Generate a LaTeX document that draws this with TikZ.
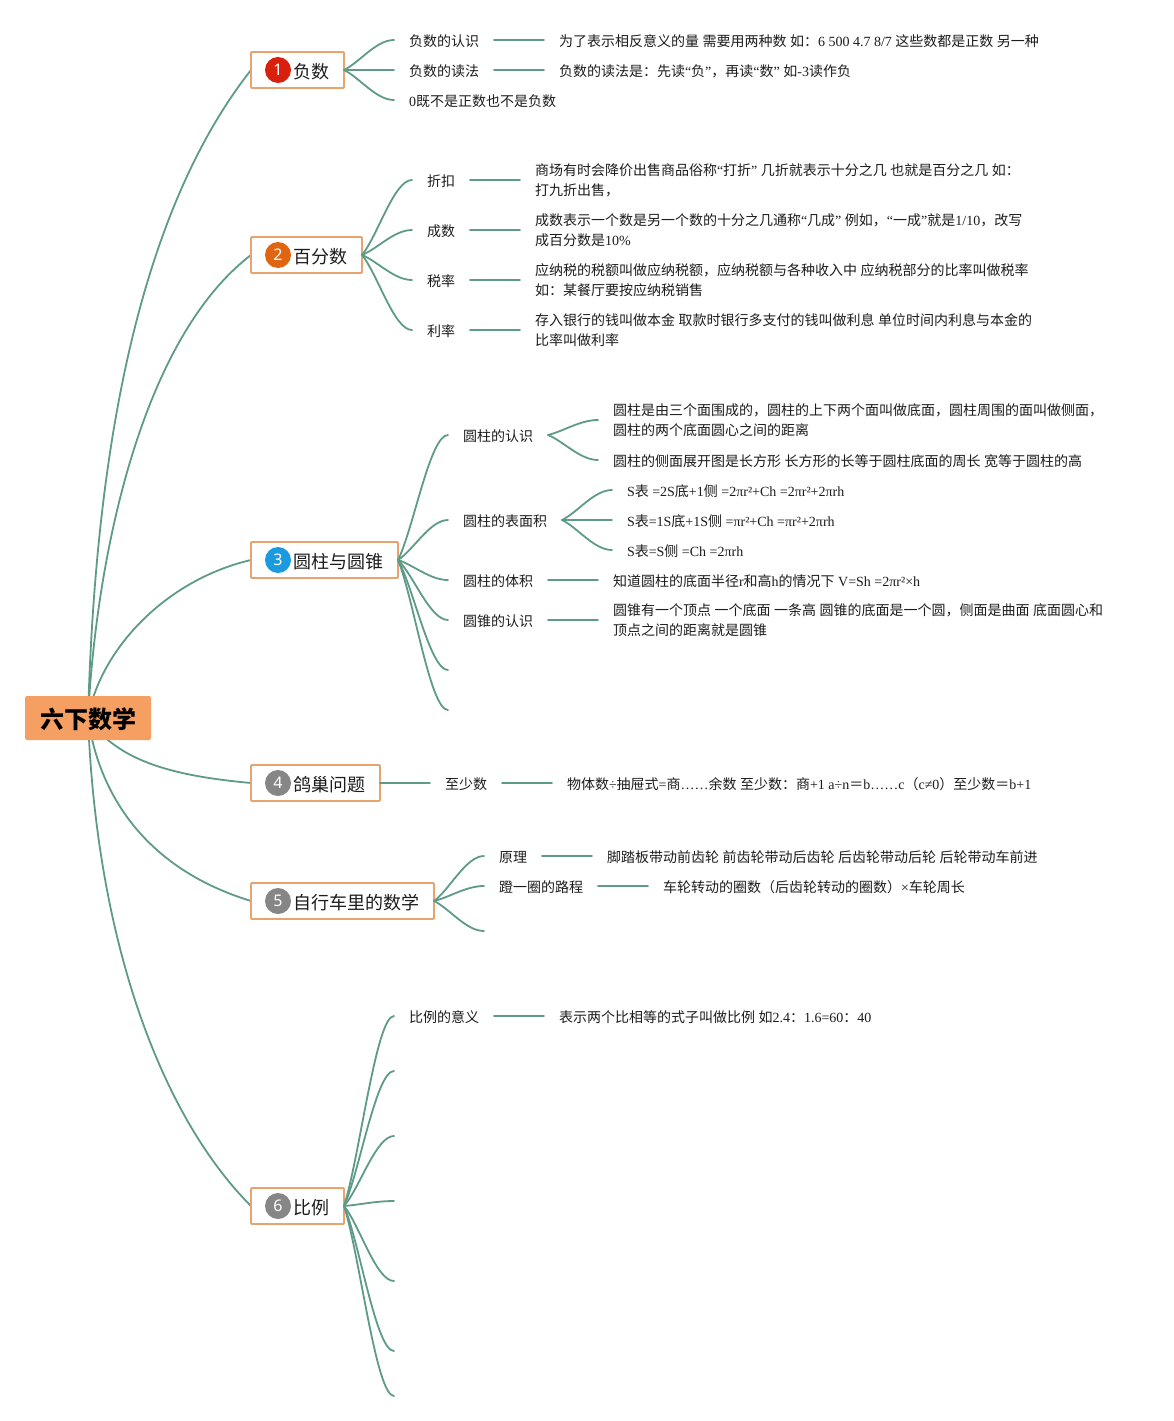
\documentclass[tikz,border=0pt]{standalone}
\usepackage{fontspec}
\usetikzlibrary{calc,backgrounds}
\setmainfont{Liberation Serif}
\newfontfamily\cjk{Noto Sans CJK SC}
\newfontfamily\badgefont{Noto Sans}
\newXeTeXintercharclass\cjkclass
\newcount\myc
\myc="4E00 \loop \XeTeXcharclass\myc=\cjkclass \ifnum\myc<"9FFF \advance\myc 1 \repeat
\myc="FF00 \loop \XeTeXcharclass\myc=\cjkclass \ifnum\myc<"FFEF \advance\myc 1 \repeat
\myc="3000 \loop \XeTeXcharclass\myc=\cjkclass \ifnum\myc<"303F \advance\myc 1 \repeat
\XeTeXinterchartoks 0 \cjkclass={\cjk}
\XeTeXinterchartoks 4095 \cjkclass={\cjk}
\XeTeXinterchartoks \cjkclass 0={\rmfamily}
\XeTeXinterchartoks \cjkclass 4095={\rmfamily}
\AtBeginDocument{\XeTeXinterchartokenstate=1 }
\newcommand\mystrut{\rule[-1pt]{0pt}{15pt}}
\definecolor{linec}{HTML}{5E9A88}
\definecolor{orangeb}{HTML}{E9A36F}
\definecolor{rootf}{HTML}{F5A062}
\definecolor{badgeg}{HTML}{868686}
\definecolor{txt}{HTML}{1C1C1C}
\tikzset{
  conn/.style={draw=linec,line width=1.8pt,line cap=round},
  lab/.style={anchor=west,inner xsep=15pt,inner ysep=0pt,outer sep=0pt,align=left,text=txt,
    font=\fontsize{14}{20}\selectfont,execute at begin node=\mystrut,execute at end node=\mystrut},
  topic/.style={anchor=west,draw=orangeb,line width=1.8pt,fill=white,rounded corners=1pt,
    minimum height=36pt,inner xsep=15pt,inner ysep=0pt,outer sep=0pt,text=txt,
    text height=17pt,text depth=1pt,font=\fontsize{18}{22}\selectfont},
  badge/.style={circle,minimum size=26pt,inner sep=0pt,outer sep=0pt,text=white,
    font=\badgefont\fontsize{16}{16}\selectfont},
  rootn/.style={draw=none,fill=rootf,rounded corners=2pt,minimum width=126pt,minimum height=44pt,
    inner sep=0pt,outer sep=0pt,text=black,text height=22pt,text depth=2pt,
    font=\bfseries\fontsize{24}{28}\selectfont}
}
\newcommand\fork[2]{\draw[conn] (#1) .. controls ($(#1)!.25!(#2)+(3,0)$) and ($(#2)+(-18,0)$) .. (#2);}
\begin{document}
\begin{tikzpicture}[x=1pt,y=-1pt]
\useasboundingbox (0,0) rectangle (1173,1421);
\node[rootn] (root) at (88,718) {六下数学};
% topics
\node[topic] (t1) at (251,70) {\hspace*{27pt}负数};
\node[topic] (t2) at (251,255) {\hspace*{27pt}百分数};
\node[topic] (t3) at (251,560) {\hspace*{27pt}圆柱与圆锥};
\node[topic] (t4) at (251,783) {\hspace*{27pt}鸽巢问题};
\node[topic] (t5) at (251,901) {\hspace*{27pt}自行车里的数学};
\node[topic] (t6) at (251,1206) {\hspace*{27pt}比例};
\node[badge,fill={rgb,255:red,217;green,32;blue,15}] (b1) at (278,70) {1};
\node[badge,fill={rgb,255:red,224;green,101;blue,16}] (b2) at (278,255) {2};
\node[badge,fill={rgb,255:red,28;green,154;blue,223}] (b3) at (278,560) {3};
\node[badge,fill=badgeg] (b4) at (278,783) {4};
\node[badge,fill=badgeg] (b5) at (278,901) {5};
\node[badge,fill=badgeg] (b6) at (278,1206) {6};
% section 1
\node[lab] (a1) at (394,40) {负数的认识};
\node[lab] (a2) at (394,70) {负数的读法};
\node[lab] (a3) at (394,100) {0既不是正数也不是负数};
\node[lab] (a1d) at (544,40) {为了表示相反意义的量 需要用两种数 如：6 500 4.7 8/7 这些数都是正数 另一种};
\node[lab] (a2d) at (544,70) {负数的读法是：先读“负”，再读“数” 如-3读作负};
% section 2
\node[lab] (p1) at (412,180) {折扣};
\node[lab] (p2) at (412,230) {成数};
\node[lab] (p3) at (412,280) {税率};
\node[lab] (p4) at (412,330) {利率};
\node[lab] (p1d) at (520,180) {商场有时会降价出售商品俗称“打折” 几折就表示十分之几 也就是百分之几 如：\\打九折出售，};
\node[lab] (p2d) at (520,230) {成数表示一个数是另一个数的十分之几通称“几成” 例如，“一成”就是1/10，改写\\成百分数是10\%};
\node[lab] (p3d) at (520,280) {应纳税的税额叫做应纳税额，应纳税额与各种收入中 应纳税部分的比率叫做税率\\如：某餐厅要按应纳税销售};
\node[lab] (p4d) at (520,330) {存入银行的钱叫做本金 取款时银行多支付的钱叫做利息 单位时间内利息与本金的\\比率叫做利率};
% section 3
\node[lab] (y1) at (448,435) {圆柱的认识};
\node[lab] (y2) at (448,520) {圆柱的表面积};
\node[lab] (y3) at (448,580) {圆柱的体积};
\node[lab] (y4) at (448,620) {圆锥的认识};
\coordinate (y5) at (448,670);
\coordinate (y6) at (448,710);
\node[lab] (y1a) at (598,420) {圆柱是由三个面围成的，圆柱的上下两个面叫做底面，圆柱周围的面叫做侧面，\\圆柱的两个底面圆心之间的距离};
\node[lab] (y1b) at (598,460) {圆柱的侧面展开图是长方形 长方形的长等于圆柱底面的周长 宽等于圆柱的高};
\node[lab] (y2a) at (612,490) {S表 =2S底+1侧 =2πr²+Ch =2πr²+2πrh};
\node[lab] (y2b) at (612,520) {S表=1S底+1S侧 =πr²+Ch =πr²+2πrh};
\node[lab] (y2c) at (612,550) {S表=S侧 =Ch =2πrh};
\node[lab] (y3d) at (598,580) {知道圆柱的底面半径r和高h的情况下 V=Sh =2πr²×h};
\node[lab] (y4d) at (598,620) {圆锥有一个顶点 一个底面 一条高 圆锥的底面是一个圆，侧面是曲面 底面圆心和\\顶点之间的距离就是圆锥};
% section 4
\node[lab] (g1) at (430,783) {至少数};
\node[lab] (g1d) at (552,783) {物体数÷抽屉式=商……余数 至少数：商+1 a÷n＝b……c（c≠0）至少数＝b+1};
% section 5
\node[lab] (z1) at (484,856) {原理};
\node[lab] (z2) at (484,886) {蹬一圈的路程};
\coordinate (z3) at (484,931);
\node[lab] (z1d) at (592,856) {脚踏板带动前齿轮 前齿轮带动后齿轮 后齿轮带动后轮 后轮带动车前进};
\node[lab] (z2d) at (648,886) {车轮转动的圈数（后齿轮转动的圈数）×车轮周长};
% section 6
\node[lab] (r1) at (394,1016) {比例的意义};
\node[lab] (r1d) at (544,1016) {表示两个比相等的式子叫做比例 如2.4：1.6=60：40};
\coordinate (r2) at (394,1071);
\coordinate (r3) at (394,1136);
\coordinate (r4) at (394,1201);
\coordinate (r5) at (394,1281);
\coordinate (r6) at (394,1351);
\coordinate (r7) at (394,1396);
\begin{pgfonlayer}{background}
\draw[conn] (root.center) .. controls (94,500) and (125,230) .. (t1.west);
\draw[conn] (root.center) .. controls (96,560) and (140,340) .. (t2.west);
\draw[conn] (root.center) .. controls (100,650) and (165,580) .. (t3.west);
\draw[conn] (root.center) .. controls (118,762) and (175,776) .. (t4.west);
\draw[conn] (root.center) .. controls (100,800) and (150,870) .. (t5.west);
\draw[conn] (root.center) .. controls (97,950) and (165,1120) .. (t6.west);
\end{pgfonlayer}
\fork{t1.east}{a1.west}\fork{t1.east}{a2.west}\fork{t1.east}{a3.west}
\fork{a1.east}{a1d.west}\fork{a2.east}{a2d.west}
\fork{t2.east}{p1.west}\fork{t2.east}{p2.west}\fork{t2.east}{p3.west}\fork{t2.east}{p4.west}
\fork{p1.east}{p1d.west}\fork{p2.east}{p2d.west}\fork{p3.east}{p3d.west}\fork{p4.east}{p4d.west}
\fork{t3.east}{y1.west}\fork{t3.east}{y2.west}\fork{t3.east}{y3.west}\fork{t3.east}{y4.west}\fork{t3.east}{y5}\fork{t3.east}{y6}
\fork{y1.east}{y1a.west}\fork{y1.east}{y1b.west}
\fork{y2.east}{y2a.west}\fork{y2.east}{y2b.west}\fork{y2.east}{y2c.west}
\fork{y3.east}{y3d.west}\fork{y4.east}{y4d.west}
\draw[conn] (t4.east) -- (g1.west);
\draw[conn] (g1.east) -- (g1d.west);
\fork{t5.east}{z1.west}\fork{t5.east}{z2.west}\fork{t5.east}{z3}
\fork{z1.east}{z1d.west}\fork{z2.east}{z2d.west}
\fork{t6.east}{r1.west}\fork{t6.east}{r2}\fork{t6.east}{r3}\fork{t6.east}{r4}\fork{t6.east}{r5}\fork{t6.east}{r6}\fork{t6.east}{r7}
\fork{r1.east}{r1d.west}
\end{tikzpicture}
\end{document}
